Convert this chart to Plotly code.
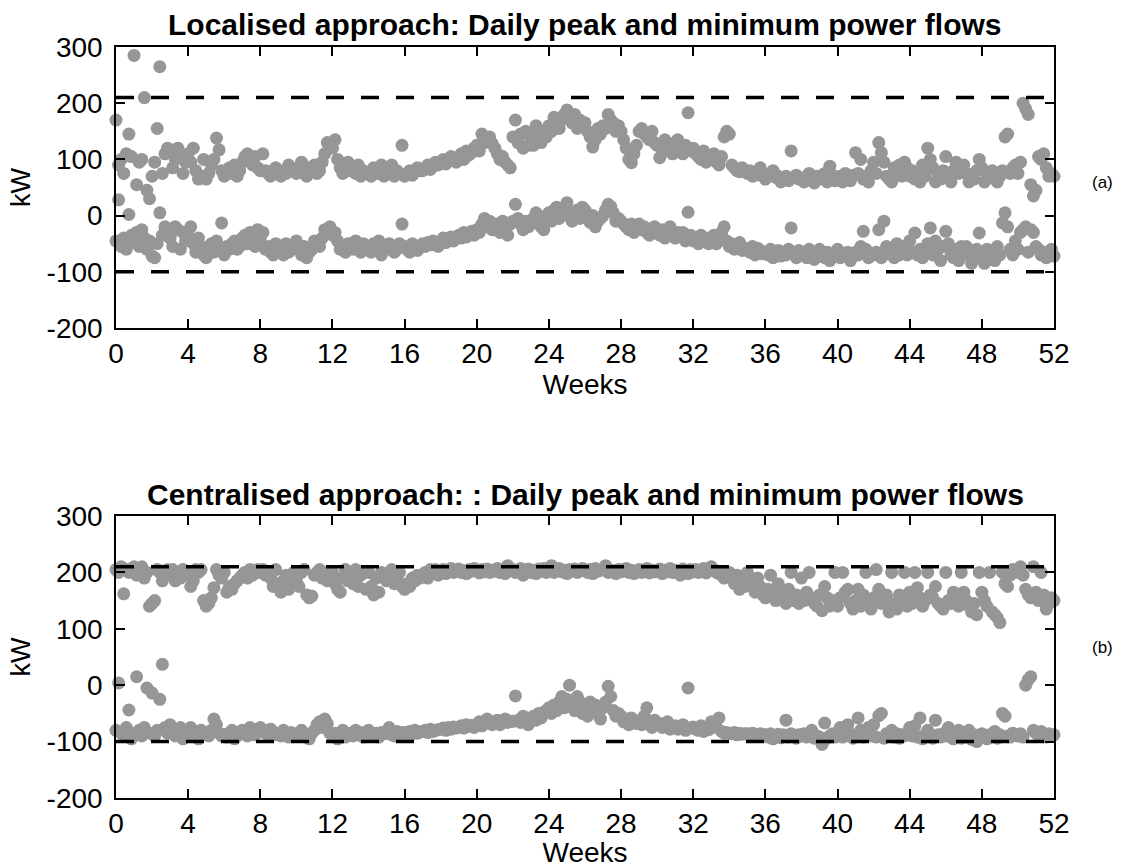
import plotly.graph_objects as go
from plotly.subplots import make_subplots

# Daily values, one row per week (7 days), day 364 appended at the end.
localised_peak = [
    170, 90, 100, 75, 110, 145, 105,
    285, 55, 95, 100, 210, 45, 30,
    70, 95, 155, 265, 75, 110, 120,
    115, 85, 100, 120, 105, 75, 95,
    110, 95, 120, 80, 65, 70, 100,
    65, 75, 90, 100, 138, 117, 80,
    70, 80, 85, 75, 90, 70, 80,
    95, 105, 110, 100, 90, 105, 85,
    80, 110, 80, 75, 70, 80, 85,
    75, 70, 80, 75, 90, 85, 80,
    75, 80, 95, 75, 70, 85, 80,
    90, 75, 80, 95, 110, 130, 125,
    120, 135, 100, 85, 75, 80, 95,
    80, 85, 75, 90, 70, 80, 75,
    75, 70, 85, 80, 75, 90, 70,
    80, 75, 90, 70, 80, 75, 125,
    70, 75, 80, 72, 78, 85, 80,
    80, 85, 90, 82, 88, 95, 90,
    95, 100, 92, 98, 105, 100, 95,
    105, 110, 100, 115, 108, 112, 120,
    125, 115, 145, 130, 135, 140, 128,
    120, 110, 100, 105, 95, 90, 85,
    140, 170, 130, 145, 120, 150, 125,
    140, 125, 160, 145, 130, 150, 140,
    160, 150, 175, 165, 155, 170, 180,
    188, 175, 165, 180, 155, 170, 160,
    165, 150, 140, 122, 135, 155, 145,
    160, 155, 180, 170, 165, 150, 160,
    150, 135, 120, 100, 94, 110, 125,
    150, 155, 145, 140, 135, 150, 130,
    125, 103, 120, 135, 115, 125, 110,
    130, 135, 120, 110, 125, 183, 115,
    120, 110, 105, 100, 115, 95, 105,
    100, 110, 95, 90, 105, 140, 150,
    145, 90, 85, 80, 78, 85, 80,
    75, 80, 70, 72, 78, 85, 70,
    65, 70, 75, 80, 68, 70, 60,
    65, 70, 62, 115, 68, 72, 65,
    65, 60, 70, 75, 62, 58, 70,
    65, 70, 75, 60, 88, 72, 62,
    65, 70, 60, 75, 68, 62, 72,
    112, 75, 100, 65, 70, 60, 80,
    95, 75, 130, 112, 95, 70, 65,
    60, 85, 75, 90, 70, 95, 85,
    70, 80, 65, 75, 60, 90, 70,
    120, 100, 85, 60, 75, 65, 80,
    105, 70, 60, 80, 95, 75, 85,
    90, 75, 60, 70, 65, 80, 100,
    85, 60, 75, 70, 80, 65, 60,
    70, 80, 140, 145, 75, 85, 90,
    75, 95, 200, 190, 180, 55, 35,
    45, 105, 100, 110, 85, 70, 75,
    70,
]

localised_min = [
    -45, 28, -55, -40, -60, 2, -35,
    -45, -30, -55, -25, -40, -60, -45,
    -72, -75, -50, 5, -35, -20, -30,
    -40, -55, -20, -25, -60, -30, -45,
    -35, -20, -50, -65, -40, -55, -70,
    -75, -60, -50, -65, -45, -55, -13,
    -70, -55, -60, -50, -45, -60, -55,
    -40, -35, -50, -30, -45, -55, -25,
    -40, -30, -60, -55, -65, -70, -50,
    -60, -55, -70, -50, -65, -60, -55,
    -45, -60, -70, -55, -75, -65, -60,
    -45, -50, -55, -40, -25, -30, -20,
    -35, -30, -45, -60, -55, -65, -50,
    -50, -60, -45, -55, -65, -50, -60,
    -55, -65, -50, -60, -45, -70, -55,
    -60, -50, -55, -65, -60, -50, -15,
    -55, -60, -65, -50, -58, -62, -55,
    -50, -55, -48, -52, -45, -50, -55,
    -45, -40, -48, -42, -38, -45, -40,
    -35, -40, -30, -38, -32, -28, -35,
    -25, -30, -15, -5, -20, -10, -25,
    -15, -20, -30, -10, -25, -35, -15,
    -10, 20, -5, -15, -25, -10, -20,
    -15, -5, 5, -10, -20, -25, 0,
    5, -10, 10, 15, -5, 0, 10,
    23, 5, -10, 0, 10, -5, 15,
    10, -5, -12, 0, -20, -10, -5,
    0, 10, 20, 16, 5, -10, -5,
    -10, -15, -20, -25, -15, -30, -20,
    -15, -25, -20, -30, -35, -25, -20,
    -30, -35, -25, -40, -30, -20, -35,
    -40, -30, -35, -30, -45, 6, -35,
    -45, -40, -50, -35, -45, -40, -50,
    -40, -35, -50, -45, -30, -20, -45,
    -55, -50, -60, -55, -48, -62, -58,
    -60, -65, -55, -70, -58, -62, -68,
    -65, -70, -60, -75, -68, -62, -72,
    -65, -70, -60, -22, -68, -75, -62,
    -65, -70, -75, -60, -72, -78, -68,
    -60, -70, -75, -65, -80, -72, -70,
    -60, -75, -68, -70, -65, -80, -72,
    -65, -70, -55, -28, -60, -75, -70,
    -70, -65, -25, -75, -10, -55, -68,
    -60, -75, -50, -70, -55, -65, -70,
    -45, -65, -31, -70, -60, -75, -65,
    -50, -22, -70, -45, -60, -80, -55,
    -28, -50, -70, -75, -60, -80, -55,
    -65, -55, -70, -85, -75, -60, -31,
    -70, -85, -60, -75, -65, -80, -55,
    -70, -13, 5, -20, -60, -70, -45,
    -60, -30, -25, -20, -65, -25, -30,
    -55, -60, -70, -65, -75, -70, -60,
    -72,
]

centralised_peak = [
    205, 200, 210, 162, 205, 200, 205,
    210, 195, 205, 210, 190, 200, 140,
    145, 150, 205, 200, 185, 195, 205,
    200, 205, 185, 200, 190, 205, 195,
    200, 175, 185, 205, 200, 205, 150,
    140, 145, 155, 173, 205, 195, 190,
    200, 165, 175, 170, 180, 185, 190,
    195, 200, 190, 205, 195, 200, 205,
    200, 205, 195, 200, 190, 175, 205,
    180, 165, 185, 195, 170, 190, 200,
    185, 175, 200, 205, 160, 155, 158,
    195, 200, 205, 190, 200, 185, 195,
    200, 180, 170, 165, 190, 205, 185,
    200, 180, 205, 175, 195, 200, 170,
    200, 175, 160, 190, 165, 200, 195,
    185, 200, 205, 180, 190, 200, 175,
    170, 180, 175, 190, 185, 195, 190,
    195, 200, 190, 205, 200, 205, 195,
    200, 205, 198, 203, 207, 200, 204,
    206, 200, 203, 198, 205, 202, 207,
    203, 199, 205, 201, 206, 200, 204,
    202, 207, 200, 204, 198, 212, 203,
    205, 200, 203, 207, 195, 201, 206,
    200, 204, 198, 206, 202, 207, 200,
    205, 212, 200, 203, 207, 201, 204,
    198, 205, 202, 206, 200, 204, 207,
    203, 200, 205, 198, 207, 202, 204,
    206, 212, 200, 204, 203, 198, 205,
    201, 205, 207, 200, 204, 198, 202,
    205, 200, 203, 207, 199, 204, 201,
    203, 206, 198, 204, 201, 207, 200,
    204, 200, 195, 206, 202, 198, 205,
    201, 205, 200, 203, 207, 199, 204,
    210, 205, 200, 198, 195, 190, 200,
    200, 190, 180, 195, 170, 185, 175,
    200, 180, 185, 165, 190, 175, 160,
    155, 170, 195, 160, 150, 180, 165,
    155, 145, 170, 200, 150, 160, 145,
    190, 150, 165, 200, 155, 145, 140,
    160, 132, 175, 155, 140, 150, 200,
    140, 155, 200, 165, 170, 145, 135,
    150, 170, 140, 160, 200, 145, 135,
    155, 205, 170, 145, 150, 160, 130,
    200, 145, 135, 160, 150, 200, 140,
    165, 145, 200, 173, 155, 140, 150,
    200, 160, 155, 175, 145, 140, 135,
    200, 150, 145, 165, 155, 140, 200,
    165, 150, 140, 130, 145, 125, 200,
    165, 150, 140, 200, 130, 125, 120,
    111, 200, 180, 175, 195, 205, 200,
    205, 210, 195, 170, 160, 155, 210,
    165, 150, 200, 160, 135, 145, 155,
    150,
]

centralised_min = [
    -80, 4, -85, -90, -75, -44, -95,
    -85, 15, -80, -90, -75, -5, -85,
    -14, -90, -80, -25, 37, -75, -85,
    -70, -85, -90, -80, -75, -95, -85,
    -80, -75, -90, -85, -95, -80, -88,
    -85, -90, -80, -60, -70, -85, -90,
    -88, -92, -85, -80, -95, -90, -85,
    -80, -85, -90, -75, -82, -88, -78,
    -75, -80, -85, -90, -78, -84, -88,
    -85, -90, -80, -88, -92, -84, -86,
    -90, -85, -80, -88, -92, -95, -85,
    -80, -70, -65, -75, -60, -68, -85,
    -90, -85, -95, -88, -80, -92, -86,
    -85, -90, -80, -88, -84, -92, -86,
    -80, -88, -90, -85, -92, -84, -86,
    -85, -75, -88, -90, -82, -86, -84,
    -84, -88, -82, -86, -80, -85, -83,
    -82, -80, -84, -78, -82, -80, -79,
    -78, -76, -80, -75, -78, -74, -76,
    -74, -72, -76, -70, -73, -71, -75,
    -70, -65, -72, -68, -60, -66, -70,
    -68, -62, -70, -65, -60, -66, -64,
    -64, -19, -62, -66, -55, -60, -70,
    -60, -55, -62, -50, -58, -48, -45,
    -40, -50, -35, -45, -30, -20, -40,
    -25, 0, -35, -45, -20, -30, -50,
    -40, -55, -30, -45, -35, -50, -60,
    -40, -30, -2, -20, -45, -55, -50,
    -55, -65, -60, -70, -58, -62, -68,
    -65, -70, -55, -40, -68, -75, -62,
    -70, -68, -75, -72, -65, -78, -74,
    -72, -78, -75, -70, -80, -5, -76,
    -74, -78, -80, -72, -82, -76, -79,
    -65, -70, -75, -58, -82, -85, -84,
    -85, -86, -84, -88, -85, -87, -86,
    -86, -88, -85, -87, -89, -86, -88,
    -88, -92, -86, -95, -90, -87, -93,
    -88, -62, -92, -86, -90, -94, -88,
    -90, -86, -92, -88, -80, -94, -90,
    -92, -105, -67, -94, -90, -86, -92,
    -88, -75, -92, -90, -70, -86, -94,
    -90, -58, -80, -92, -88, -75, -90,
    -70, -92, -54, -50, -94, -86, -90,
    -80, -92, -86, -94, -88, -90, -85,
    -75, -90, -72, -92, -58, -95, -88,
    -80, -90, -94, -62, -88, -92, -86,
    -90, -75, -92, -95, -88, -80, -94,
    -92, -90, -80, -96, -88, -100, -90,
    -86, -92, -95, -88, -90, -82, -94,
    -88, -50, -55, -90, -92, -85, -88,
    -90, -86, -92, 0, 10, 15, -80,
    -85, -90, -82, -88, -92, -86, -90,
    -88,
]

upper_limit = 210
lower_limit = -100

panel_titles = [
    "Localised approach: Daily peak and minimum power flows",
    "Centralised approach: : Daily peak and minimum power flows",
]
panel_tags = ["(a)", "(b)"]
week_ticks = list(range(0, 53, 4))
kw_ticks = [-200, -100, 0, 100, 200, 300]
kw_labels = ["-200", "-100", "0", "100", "200", "300"]

days = list(range(len(localised_peak)))
weeks = [d / 7 for d in days]

FONT = "Liberation Sans, Arial, Helvetica, sans-serif"
DOT = "rgb(150,150,150)"

fig = make_subplots(rows=2, cols=1)

panels = [(localised_peak, localised_min), (centralised_peak, centralised_min)]
for i, (peak, low) in enumerate(panels, start=1):
    for series in (peak, low):
        fig.add_trace(
            go.Scatter(
                x=weeks, y=series, mode="markers",
                marker=dict(size=13, color=DOT, line=dict(width=0)),
                showlegend=False, hoverinfo="skip", cliponaxis=False,
            ),
            row=i, col=1,
        )
    for level in (upper_limit, lower_limit):
        fig.add_trace(
            go.Scatter(
                x=[0, 52], y=[level, level], mode="lines",
                line=dict(color="black", width=3.5, dash="18px,17px"),
                showlegend=False, hoverinfo="skip",
            ),
            row=i, col=1,
        )

H = 868.0
# vertical pixel extents of the two panels: (top, bottom)
panel_px = [(47, 328), (516, 798)]
domains = [(1 - b / H, 1 - t / H) for t, b in panel_px]

axis_common = dict(
    showline=True, linecolor="black", linewidth=1.5, mirror="ticks",
    ticks="inside", ticklen=9, tickwidth=1.5, tickcolor="black",
    showgrid=False, zeroline=False, automargin=False,
    tickfont=dict(family=FONT, size=28, color="black"),
)
for i, dom in enumerate(domains, start=1):
    sfx = "" if i == 1 else str(i)
    fig.layout["xaxis" + sfx].update(
        range=[0, 52], tickvals=week_ticks, ticklabelstandoff=0,
        title=dict(text="Weeks", font=dict(family=FONT, size=28, color="black"), standoff=2),
        **axis_common,
    )
    fig.layout["yaxis" + sfx].update(
        range=[-200, 300], tickvals=kw_ticks, ticktext=kw_labels, domain=list(dom),
        title=dict(text="kW", font=dict(family=FONT, size=27, color="black"), standoff=8),
        ticklabelstandoff=6,
        **axis_common,
    )

annotations = []
tag_offsets = [135, 131]
for i, (t, b) in enumerate(panel_px):
    annotations.append(dict(
        text="<b>%s</b>" % panel_titles[i], xref="paper", yref="paper",
        x=0.5, y=1 - (t - 22) / H, yanchor="middle", showarrow=False,
        font=dict(family=FONT, size=30, color="black"),
    ))
    annotations.append(dict(
        text=panel_tags[i], xref="paper", yref="paper",
        x=1.0, xshift=48, xanchor="center",
        y=1 - (t + tag_offsets[i]) / H, yanchor="middle", showarrow=False,
        font=dict(family=FONT, size=17, color="black"),
    ))

fig.update_layout(
    width=1125, height=868,
    margin=dict(l=116, r=71, t=0, b=0),
    paper_bgcolor="white", plot_bgcolor="white",
    annotations=annotations,
)

fig.write_html("out.html")
